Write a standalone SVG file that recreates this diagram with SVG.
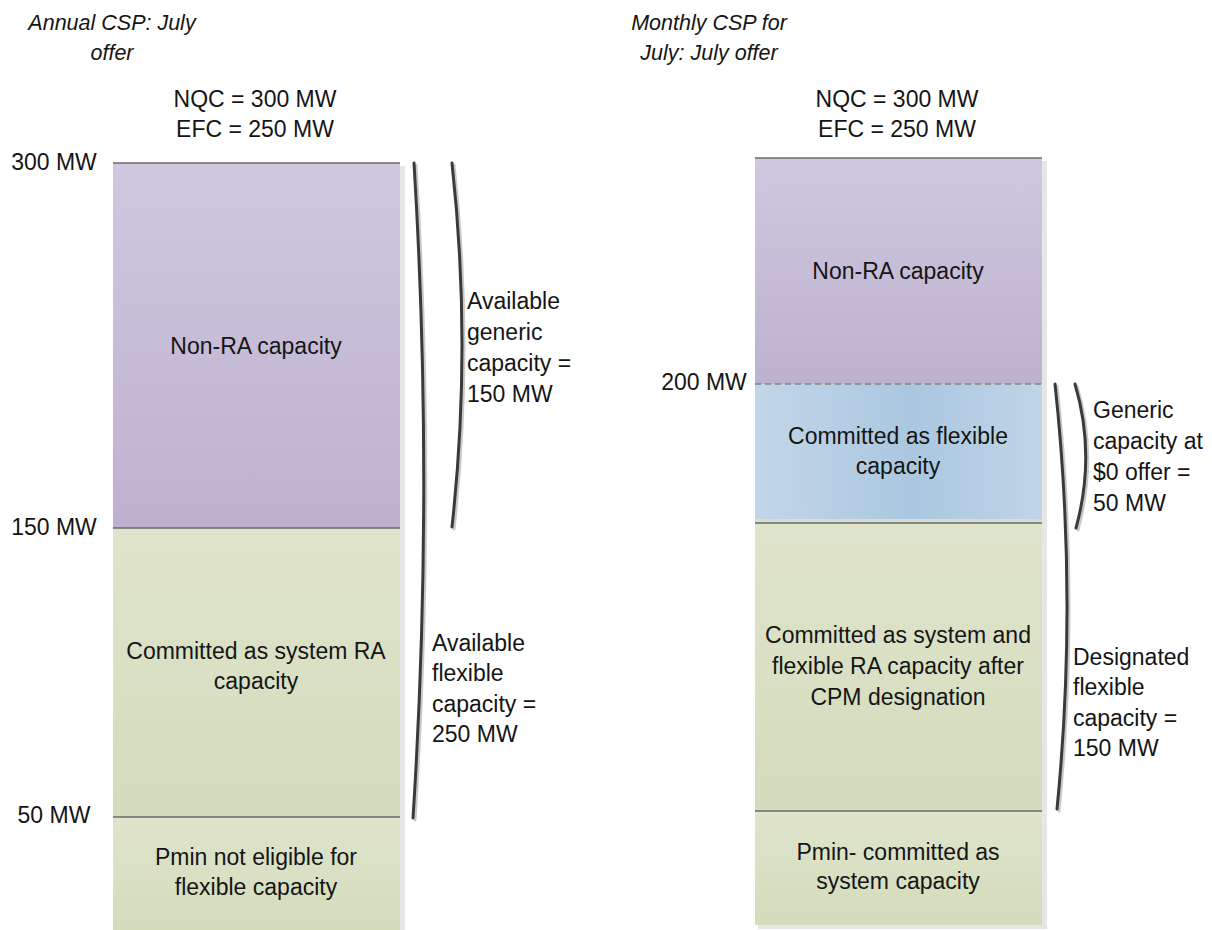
<svg xmlns="http://www.w3.org/2000/svg" width="1212" height="930" viewBox="0 0 1212 930">
<defs>
<linearGradient id="gPurple" x1="0" y1="0" x2="0" y2="1"><stop offset="0" stop-color="#cfc8df"/><stop offset="1" stop-color="#bdb1d0"/></linearGradient>
<linearGradient id="gGreen" x1="0" y1="0" x2="0" y2="1"><stop offset="0" stop-color="#dfe4cc"/><stop offset="1" stop-color="#d3dcbb"/></linearGradient>
<linearGradient id="gBlue" x1="0" y1="0" x2="1" y2="0"><stop offset="0" stop-color="#c3d6e9"/><stop offset="0.55" stop-color="#aac7df"/><stop offset="1" stop-color="#c0d5e8"/></linearGradient>
</defs>
<style>
text{font-family:"Liberation Sans",Arial,sans-serif;font-size:23px;fill:#151515}
.c{text-anchor:middle}
.h{font-style:italic;font-size:21.5px;text-anchor:middle}
.div{stroke:#6a6a6a;stroke-width:1.6;fill:none}
.dash{stroke:#808080;stroke-width:1.4;stroke-dasharray:6 4;fill:none}
.shadow{fill:#e6e6e6}
.br{fill:none;stroke:#3a3a3a;stroke-width:3;stroke-linecap:round}
.brs{fill:none;stroke:#c8c8c8;stroke-width:3;stroke-linecap:round}
</style>

<g id="titles">
<text class="h" x="112" y="30">Annual CSP: July</text>
<text class="h" x="112" y="60">offer</text>
<text class="h" x="709" y="30">Monthly CSP for</text>
<text class="h" x="709" y="60">July: July offer</text>
<text class="c" x="255" y="107">NQC = 300 MW</text>
<text class="c" x="255" y="137">EFC = 250 MW</text>
<text class="c" x="897" y="107">NQC = 300 MW</text>
<text class="c" x="897" y="137">EFC = 250 MW</text>
</g>

<g id="axis-labels">
<text class="c" x="54" y="170">300 MW</text>
<text class="c" x="54" y="535">150 MW</text>
<text class="c" x="54" y="823">50 MW</text>
<text class="c" x="704" y="390">200 MW</text>
</g>

<!-- Left column -->
<rect class="shadow" x="400" y="166" width="5" height="764"/>
<g id="left-nonra">
<rect x="113" y="163" width="287" height="365" fill="url(#gPurple)"/>
<text class="c" x="256" y="354">Non-RA capacity</text>
</g>
<g id="left-system-ra">
<rect x="113" y="528" width="287" height="289" fill="url(#gGreen)"/>
<text class="c" x="256" y="659">Committed as system RA</text>
<text class="c" x="256" y="689">capacity</text>
</g>
<g id="left-pmin">
<rect x="113" y="817" width="287" height="113" fill="url(#gGreen)"/>
<text class="c" x="256" y="865">Pmin not eligible for</text>
<text class="c" x="256" y="895">flexible capacity</text>
</g>
<line class="div" x1="113" y1="163" x2="400" y2="163"/>
<line class="div" x1="113" y1="528" x2="400" y2="528"/>
<line class="div" x1="113" y1="817" x2="400" y2="817"/>

<!-- Right column -->
<rect class="shadow" x="1042" y="161" width="5" height="768"/>
<rect class="shadow" x="758" y="925" width="289" height="4"/>
<g id="right-nonra">
<rect x="755" y="158" width="287" height="226" fill="url(#gPurple)"/>
<text class="c" x="898" y="279">Non-RA capacity</text>
</g>
<g id="right-flexible">
<rect x="755" y="384" width="287" height="136" fill="url(#gBlue)"/>
<rect x="755" y="519" width="287" height="4" fill="#d9dfcf"/>
<text class="c" x="898" y="444">Committed as flexible</text>
<text class="c" x="898" y="474">capacity</text>
</g>
<g id="right-system-flex">
<rect x="755" y="523" width="287" height="288" fill="url(#gGreen)"/>
<text class="c" x="898" y="643">Committed as system and</text>
<text class="c" x="898" y="674">flexible RA capacity after</text>
<text class="c" x="898" y="705">CPM designation</text>
</g>
<g id="right-pmin">
<rect x="755" y="811" width="287" height="114" fill="url(#gGreen)"/>
<text class="c" x="898" y="860">Pmin- committed as</text>
<text class="c" x="898" y="889">system capacity</text>
</g>
<line class="div" x1="755" y1="158" x2="1042" y2="158"/>
<line class="dash" x1="755" y1="384" x2="1042" y2="384"/>
<line class="div" x1="755" y1="523" x2="1042" y2="523"/>
<line class="div" x1="755" y1="811" x2="1042" y2="811"/>

<g id="connectors">
<path class="brs" d="M416,165 Q436,491 415,820"/>
<path class="br" d="M414,163 Q434,490 413,818"/>
<path class="brs" d="M454,165 Q474,346 454,529"/>
<path class="br" d="M452,163 Q472,345 452,527"/>
<path class="brs" d="M1057,386 Q1080,598 1059,811"/>
<path class="br" d="M1055,384 Q1078,597 1057,809"/>
<path class="brs" d="M1077,386 Q1098,456 1078,530"/>
<path class="br" d="M1075,384 Q1096,455 1076,528"/>
</g>

<g id="bracket-labels">
<text x="467" y="309">Available</text>
<text x="467" y="340">generic</text>
<text x="467" y="371">capacity =</text>
<text x="467" y="402">150 MW</text>
<text x="432" y="651">Available</text>
<text x="432" y="681">flexible</text>
<text x="432" y="712">capacity =</text>
<text x="432" y="742">250 MW</text>
<text x="1093" y="418">Generic</text>
<text x="1093" y="449">capacity at</text>
<text x="1093" y="480">$0 offer =</text>
<text x="1093" y="511">50 MW</text>
<text x="1073" y="665">Designated</text>
<text x="1073" y="695">flexible</text>
<text x="1073" y="726">capacity =</text>
<text x="1073" y="756">150 MW</text>
</g>
</svg>
